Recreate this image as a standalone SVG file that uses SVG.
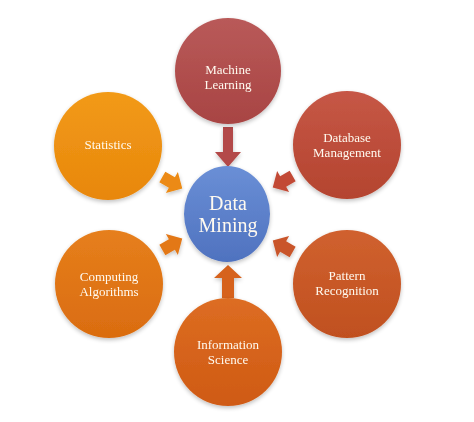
<svg xmlns="http://www.w3.org/2000/svg" width="474" height="422" viewBox="0 0 474 422">
<defs>
<linearGradient id="gML" x1="0" y1="0" x2="0" y2="1"><stop offset="0" stop-color="#b95a59"/><stop offset="1" stop-color="#a84443"/></linearGradient>
<linearGradient id="gDB" x1="0" y1="0" x2="0" y2="1"><stop offset="0" stop-color="#c65746"/><stop offset="1" stop-color="#b4442f"/></linearGradient>
<linearGradient id="gPR" x1="0" y1="0" x2="0" y2="1"><stop offset="0" stop-color="#d0612f"/><stop offset="1" stop-color="#c0501f"/></linearGradient>
<linearGradient id="gIS" x1="0" y1="0" x2="0" y2="1"><stop offset="0" stop-color="#dd6d22"/><stop offset="1" stop-color="#cf5a14"/></linearGradient>
<linearGradient id="gCA" x1="0" y1="0" x2="0" y2="1"><stop offset="0" stop-color="#e67f1c"/><stop offset="1" stop-color="#da6c10"/></linearGradient>
<linearGradient id="gST" x1="0" y1="0" x2="0" y2="1"><stop offset="0" stop-color="#f29a18"/><stop offset="1" stop-color="#e8870c"/></linearGradient>
<linearGradient id="gDM" x1="0" y1="0" x2="0" y2="1"><stop offset="0" stop-color="#6a8fd6"/><stop offset="1" stop-color="#4f72bf"/></linearGradient>
<filter id="sh" x="-20%" y="-20%" width="140%" height="140%"><feGaussianBlur in="SourceAlpha" stdDeviation="2"/><feOffset dy="1.5"/><feComponentTransfer><feFuncA type="linear" slope="0.25"/></feComponentTransfer><feMerge><feMergeNode/><feMergeNode in="SourceGraphic"/></feMerge></filter>
<path id="arrD" d="M-10,-6 L1,-6 L1,-12 L13,0 L1,12 L1,6 L-10,6 Z"/>
</defs>
<style>
text{font-family:"Liberation Serif","DejaVu Serif",serif;fill:#fffaf0;text-anchor:middle;font-size:13px}
.big{font-size:20px}
</style>
<rect width="474" height="422" fill="#ffffff"/>
<g id="connectors" filter="url(#sh)">
<path d="M223,127 L233,127 L233,152 L241,152 L228,167 L215,152 L223,152 Z" fill="#b34a48"/>
<path d="M222,298 L234,298 L234,278 L242,278 L228,265 L214,278 L222,278 Z" fill="#d6621c"/>
<use href="#arrD" transform="translate(171,182) rotate(30)" fill="#ec8a12"/>
<use href="#arrD" transform="translate(171,245) rotate(-30)" fill="#e37818"/>
<use href="#arrD" transform="translate(284,181) rotate(150)" fill="#c24a36"/>
<use href="#arrD" transform="translate(284,247) rotate(210)" fill="#c9552a"/>
</g>
<g id="machine-learning" filter="url(#sh)"><circle cx="228" cy="71" r="53" fill="url(#gML)"/><text x="228" y="74">Machine</text><text x="228" y="89">Learning</text></g>
<g id="database-management" filter="url(#sh)"><circle cx="347" cy="145" r="54" fill="url(#gDB)"/><text x="347" y="142">Database</text><text x="347" y="157">Management</text></g>
<g id="pattern-recognition" filter="url(#sh)"><circle cx="347" cy="284" r="54" fill="url(#gPR)"/><text x="347" y="280">Pattern</text><text x="347" y="295">Recognition</text></g>
<g id="information-science" filter="url(#sh)"><circle cx="228" cy="352" r="54" fill="url(#gIS)"/><text x="228" y="349">Information</text><text x="228" y="364">Science</text></g>
<g id="computing-algorithms" filter="url(#sh)"><circle cx="109" cy="284" r="54" fill="url(#gCA)"/><text x="109" y="281">Computing</text><text x="109" y="296">Algorithms</text></g>
<g id="statistics" filter="url(#sh)"><circle cx="108" cy="146" r="54" fill="url(#gST)"/><text x="108" y="149">Statistics</text></g>
<g id="data-mining" filter="url(#sh)"><ellipse cx="227" cy="214" rx="43" ry="48" fill="url(#gDM)"/><text class="big" x="228" y="210">Data</text><text class="big" x="228" y="232">Mining</text></g>
</svg>
